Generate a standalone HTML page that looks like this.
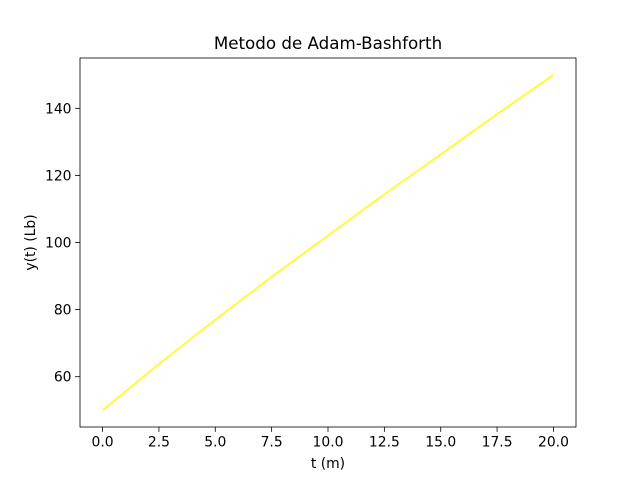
<!DOCTYPE html>
<html><head><meta charset="utf-8"><style>
body{margin:0;background:#fff}
svg text{font-family:"DejaVu Sans","Liberation Sans",sans-serif;fill:#000}
</style></head><body>
<svg id="chart" width="640" height="480" viewBox="0 0 640 480">
<rect width="640" height="480" fill="#fff"/>
<g id="plot"></g>
</svg>
<script>
const tValues=[0,2.5,5,7.5,10,12.5,15,17.5,20];
const yValues=[50,63.8,77.0,89.8,102.1,114.4,126.3,138.3,150];
const xTicks=[0,2.5,5,7.5,10,12.5,15,17.5,20];
const xTickLabels=["0.0","2.5","5.0","7.5","10.0","12.5","15.0","17.5","20.0"];
const yTicks=[60,80,100,120,140];
const yTickLabels=["60","80","100","120","140"];
const L=80,R=576,T=58,B=427,xmin=-1,xmax=21,ymin=45,ymax=155;
const sx=v=>L+(v-xmin)/(xmax-xmin)*(R-L);
const sy=v=>B-(v-ymin)/(ymax-ymin)*(B-T);
const NS="http://www.w3.org/2000/svg";
const g=document.getElementById('plot');
function mk(tag,attrs,txt){const e=document.createElementNS(NS,tag);for(const k in attrs)e.setAttribute(k,attrs[k]);if(txt!==undefined)e.textContent=txt;g.appendChild(e);return e;}
let pts=tValues.map((t,i)=>sx(t)+','+sy(yValues[i])).join(' ');
const line=mk('polyline',{points:pts,fill:'none',stroke:'#ffff00','stroke-width':1.5,'stroke-linejoin':'round'});


const frame=mk('rect',{x:L,y:T,width:R-L,height:B-T,fill:'none',stroke:'#000','stroke-width':0.8});


xTicks.forEach((v,i)=>{const x=sx(v);
const tk=mk('line',{x1:x,x2:x,y1:B,y2:B+4.9,stroke:'#000','stroke-width':0.8});


const lb=mk('text',{x:x,y:B+19.5,'text-anchor':'middle','font-size':'13.9px'},xTickLabels[i]);

});
yTicks.forEach((v,i)=>{const y=sy(v);
const tk=mk('line',{x1:L-4.9,x2:L,y1:y,y2:y,stroke:'#000','stroke-width':0.8});


const lb=mk('text',{x:L-8.5,y:y+5,'text-anchor':'end','font-size':'13.9px'},yTickLabels[i]);

});
const title=mk('text',{x:(L+R)/2,y:49,'text-anchor':'middle','font-size':'16.7px'},'Metodo de Adam-Bashforth');


const xl=mk('text',{x:(L+R)/2,y:468,'text-anchor':'middle','font-size':'13.9px'},'t (m)');


const yl=mk('text',{x:0,y:0,'text-anchor':'middle','font-size':'13.9px',transform:'translate(35,'+((T+B)/2)+') rotate(-90)'},'y(t) (Lb)');


</script>
</body></html>
